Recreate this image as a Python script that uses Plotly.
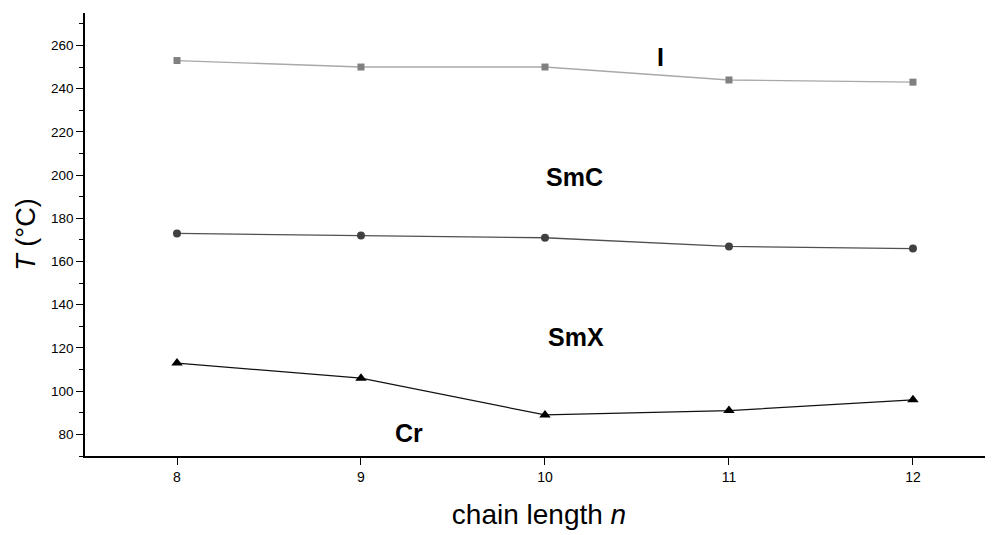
import plotly.graph_objects as go

n = [8, 9, 10, 11, 12]
T_I = [253, 250, 250, 244, 243]
T_SmC = [173, 172, 171, 167, 166]
T_Cr = [113, 106, 89, 91, 96]

phase_labels = ["I", "SmC", "SmX", "Cr"]
phase_x = [10.63, 10.16, 10.17, 9.26]
phase_y = [254.5, 199, 125, 80.5]

FONT = "Liberation Sans, Arial"

fig = go.Figure()
fig.add_trace(go.Scatter(x=n, y=T_I, mode="lines+markers",
                         line=dict(color="#a8a8a8", width=1.3),
                         marker=dict(symbol="square", size=7, color="#808080")))
fig.add_trace(go.Scatter(x=n, y=T_SmC, mode="lines+markers",
                         line=dict(color="#505050", width=1.3),
                         marker=dict(symbol="circle", size=8, color="#404040")))
fig.add_trace(go.Scatter(x=n, y=T_Cr, mode="lines+markers",
                         line=dict(color="#111111", width=1.2),
                         marker=dict(symbol="triangle-up", size=10, color="#000000")))

for t, x, y in zip(phase_labels, phase_x, phase_y):
    fig.add_annotation(x=x, y=y, text="<b>%s</b>" % t, showarrow=False,
                       font=dict(family=FONT, size=25, color="#000"))

axis_common = dict(showline=True, linecolor="#000", linewidth=1.5, ticks="outside",
                   tickcolor="#000", tickwidth=1.3, ticklen=7, showgrid=False,
                   zeroline=False, mirror=False)

fig.update_xaxes(range=[7.5, 12.435], tickvals=n, ticktext=[str(v) for v in n],
                 tickfont=dict(family="Liberation Sans Narrow, " + FONT, size=14, color="#000"),
                 title=dict(text="chain length <i>n</i>", standoff=21,
                            font=dict(family=FONT, size=28, color="#000")),
                 **axis_common)
fig.update_yaxes(range=[70, 275], dtick=20, tick0=0,
                 tickfont=dict(family=FONT, size=13.5, color="#000"),
                 minor=dict(dtick=10, tick0=0, ticks="outside", ticklen=4, tickcolor="#000", tickwidth=1.3),
                 title=dict(text="<i>T</i> (°C)", standoff=8,
                            font=dict(family=FONT, size=27, color="#000")),
                 **axis_common)

fig.update_layout(width=985, height=527, showlegend=False,
                  plot_bgcolor="white", paper_bgcolor="white",
                  margin=dict(l=77, r=0, t=5, b=79))

fig.write_html("out.html")
